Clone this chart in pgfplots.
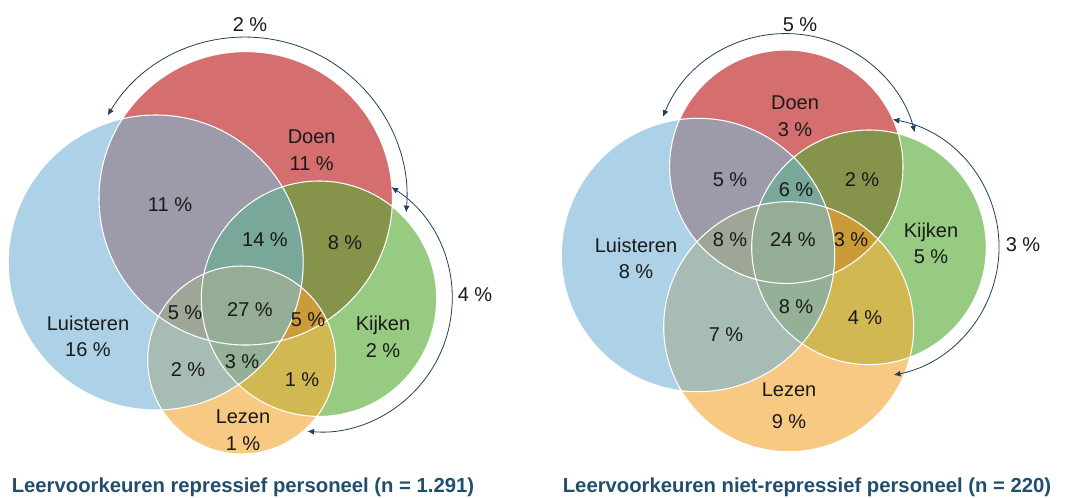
\documentclass[border=0pt]{standalone}
\usepackage{pgfplots}
\pgfplotsset{compat=1.18}
\usepackage{fontspec}
\setmainfont{Liberation Sans}
\usetikzlibrary{arrows.meta}
\definecolor{cB}{HTML}{ADD2E7}
\definecolor{cR}{HTML}{D56F6F}
\definecolor{cG}{HTML}{97CB82}
\definecolor{cO}{HTML}{F7C983}
\definecolor{cBR}{HTML}{9D9AAA}
\definecolor{cBG}{HTML}{8FBBA6}
\definecolor{cBO}{HTML}{A8BCB6}
\definecolor{cRG}{HTML}{86934B}
\definecolor{cRO}{HTML}{D89A6F}
\definecolor{cGO}{HTML}{D1B853}
\definecolor{cBRG}{HTML}{79A89B}
\definecolor{cBRO}{HTML}{9EA797}
\definecolor{cBGO}{HTML}{94B096}
\definecolor{cRGO}{HTML}{CB9B38}
\definecolor{cBRGO}{HTML}{95AD94}
\definecolor{cTitle}{HTML}{1F4E6F}
\definecolor{cArc}{HTML}{1F3F5F}
\definecolor{cTxt}{HTML}{1A1A1A}
\tikzset{myarc/.style={cArc, line width=0.6pt, {Latex[length=5pt,width=4.5pt]}-{Latex[length=5pt,width=4.5pt]}},
  lbl/.style={font=\fontsize{15}{20}\selectfont, text=cTxt, align=center, inner sep=0pt},
  ttl/.style={font=\bfseries\fontsize{15.2}{18}\selectfont, text=cTitle, inner sep=0pt}}
% #1 Luisteren, #2 Doen, #3 Kijken, #4 Lezen
\newcommand\venn[4]{%
 \fill[cB] #1; \fill[cR] #2; \fill[cG] #3; \fill[cO] #4;
 \begin{scope}\clip #1; \fill[cBR] #2; \end{scope}
 \begin{scope}\clip #1; \fill[cBG] #3; \end{scope}
 \begin{scope}\clip #1; \fill[cBO] #4; \end{scope}
 \begin{scope}\clip #2; \fill[cRG] #3; \end{scope}
 \begin{scope}\clip #2; \fill[cRO] #4; \end{scope}
 \begin{scope}\clip #3; \fill[cGO] #4; \end{scope}
 \begin{scope}\clip #1; \clip #2; \fill[cBRG] #3; \end{scope}
 \begin{scope}\clip #1; \clip #2; \fill[cBRO] #4; \end{scope}
 \begin{scope}\clip #1; \clip #3; \fill[cBGO] #4; \end{scope}
 \begin{scope}\clip #2; \clip #3; \fill[cRGO] #4; \end{scope}
 \begin{scope}\clip #1; \clip #2; \clip #3; \fill[cBRGO] #4; \end{scope}
 \draw[white, line width=0.8pt] #1 #2 #3 #4;
}
\begin{document}
\begin{tikzpicture}
\useasboundingbox (0,0) rectangle (800.25pt,372.75pt);
\begin{axis}[
  width=800.25pt, height=372.75pt, scale only axis,
  xmin=0, xmax=1067, ymin=0, ymax=497, y dir=reverse,
  hide axis, clip=false,
]
% left panel
\venn{(axis cs:155.7,262.5) circle[radius=147.5]}
     {(axis cs:245.7,198.3) circle[radius=146.7]}
     {(axis cs:319,298.7) circle[radius=117.7]}
     {(axis cs:241.7,360) circle[radius=94]}
\draw[myarc] (axis cs:245.7,198.3) ++(149:120.75pt) arc[start angle=149, end angle=-5, radius=120.75pt];
\draw[myarc] (axis cs:319,298.7) ++(57:99.75pt) arc[start angle=57, end angle=-95, radius=99.75pt];
\node[lbl] at (axis cs:250,25) {2 \%};
\node[lbl] at (axis cs:475,295) {4 \%};
\node[lbl] at (axis cs:311.7,150) {Doen\\11 \%};
\node[lbl] at (axis cs:170,205) {11 \%};
\node[lbl] at (axis cs:265,240) {14 \%};
\node[lbl] at (axis cs:345,243) {8 \%};
\node[lbl] at (axis cs:185,313) {5 \%};
\node[lbl] at (axis cs:250,310) {27 \%};
\node[lbl] at (axis cs:308,320) {5 \%};
\node[lbl] at (axis cs:88,336.5) {Luisteren\\16 \%};
\node[lbl] at (axis cs:383,336.5) {Kijken\\2 \%};
\node[lbl] at (axis cs:188,370) {2 \%};
\node[lbl] at (axis cs:242,362) {3 \%};
\node[lbl] at (axis cs:302,380) {1 \%};
\node[lbl] at (axis cs:243,430) {Lezen\\1 \%};
\node[ttl] at (axis cs:243,487) {Leervoorkeuren repressief personeel (n = 1.291)};
% right panel
\venn{(axis cs:698,255) circle[radius=136.7]}
     {(axis cs:786.3,166.7) circle[radius=116.7]}
     {(axis cs:869,247.3) circle[radius=117.3]}
     {(axis cs:788.7,326.7) circle[radius=125]}
\draw[myarc] (axis cs:786.3,166.7) ++(158:99.75pt) arc[start angle=158, end angle=15, radius=99.75pt];
\draw[myarc] (axis cs:869,247.3) ++(79.5:97.5pt) arc[start angle=79.5, end angle=-79, radius=97.5pt];
\node[lbl] at (axis cs:800,25) {5 \%};
\node[lbl] at (axis cs:1023,245) {3 \%};
\node[lbl] at (axis cs:795,116.5) {Doen\\3 \%};
\node[lbl] at (axis cs:730,180) {5 \%};
\node[lbl] at (axis cs:796,190) {6 \%};
\node[lbl] at (axis cs:862,180) {2 \%};
\node[lbl] at (axis cs:931,243.5) {Kijken\\5 \%};
\node[lbl] at (axis cs:636,258.5) {Luisteren\\8 \%};
\node[lbl] at (axis cs:730,240) {8 \%};
\node[lbl] at (axis cs:793,240) {24 \%};
\node[lbl] at (axis cs:851,240) {3 \%};
\node[lbl] at (axis cs:796,307) {8 \%};
\node[lbl] at (axis cs:865,318) {4 \%};
\node[lbl] at (axis cs:726,335) {7 \%};
\node[lbl, font=\fontsize{15}{24}\selectfont] at (axis cs:789,406) {Lezen\\9 \%};
\node[ttl] at (axis cs:807,487) {Leervoorkeuren niet-repressief personeel (n = 220)};
\end{axis}
\end{tikzpicture}
\end{document}
